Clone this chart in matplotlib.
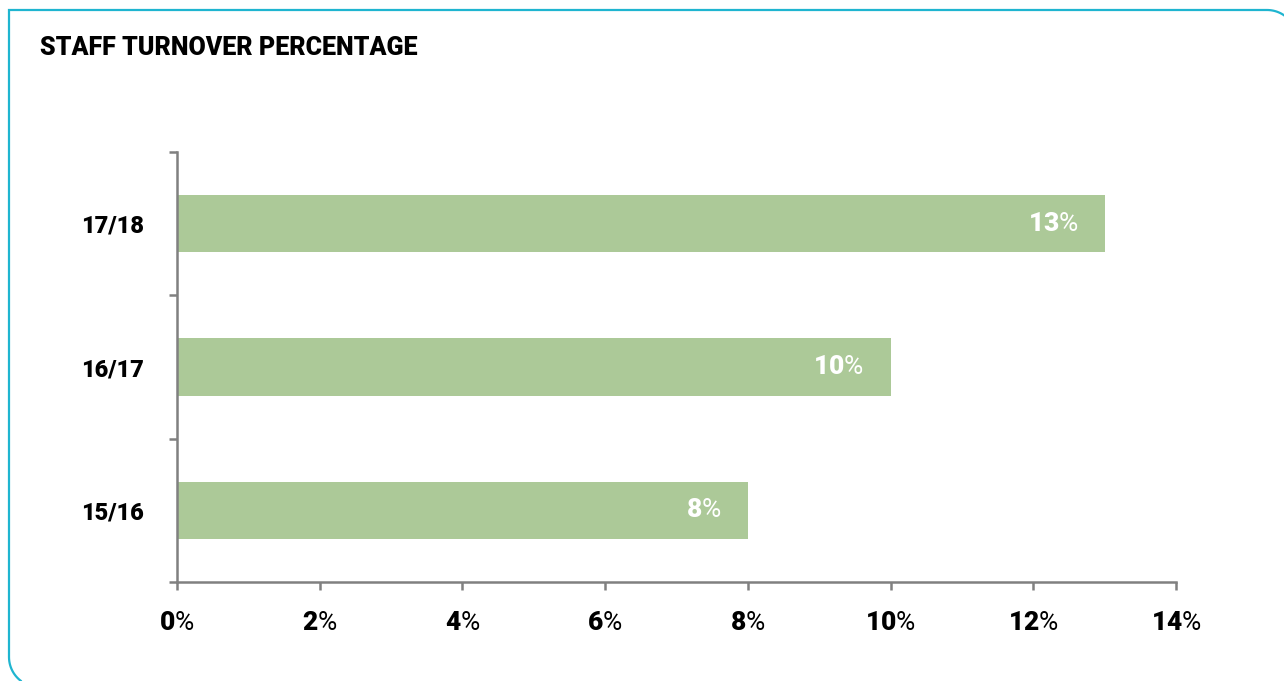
"""
Staff turnover percentage by year, horizontal bar chart.
"""

import matplotlib
matplotlib.use("Agg")
import matplotlib.pyplot as plt
from matplotlib.lines import Line2D
from matplotlib.ticker import FixedLocator, NullFormatter
import numpy as np


years = ["15/16", "16/17", "17/18"]
turnover = [8, 10, 13]
x_ticks = [0, 2, 4, 6, 8, 10, 12, 14]

BAR_COLOR = "#acc998"
AXIS_COLOR = "#808080"
BORDER_COLOR = "#1fb5d0"
FONT = ["Roboto", "DejaVu Sans"]

plt.rcParams["font.family"] = FONT
plt.rcParams["mathtext.fontset"] = "custom"
plt.rcParams["mathtext.bf"] = "Roboto:black"
plt.rcParams["mathtext.rm"] = "Roboto"


def pct_label(v):
    # heavy number, regular percent sign
    return r"$\mathbf{%d}$%%" % v


def draw_border(fig):
    # panel outline in pixel coords (y down): square top-left corner,
    # rounded top-right and bottom-left corners
    W, H = 1284, 681
    r = 30
    cx, cy = 1267, 40
    pts = [(cx + r * np.cos(a), cy - r * np.sin(a)) for a in np.linspace(0.6, np.pi / 2, 20)]
    pts += [(9, 10), (9, 657)]
    cx2, cy2 = 39, 657
    pts += [(cx2 - r * np.cos(a), cy2 + r * np.sin(a)) for a in np.linspace(0, 0.95, 15)]
    xs = [p[0] / W for p in pts]
    ys = [1 - p[1] / H for p in pts]
    fig.add_artist(Line2D(xs, ys, transform=fig.transFigure, color=BORDER_COLOR,
                          linewidth=1.6, solid_capstyle="butt", solid_joinstyle="miter"))


fig = plt.figure(figsize=(12.84, 6.81), dpi=100, facecolor="white")
ax = fig.add_axes([177 / 1284, 1 - 582 / 681, (1176 - 177) / 1284, (582 - 152) / 681])

y = np.arange(len(years))
ax.barh(y, turnover, height=0.4, color=BAR_COLOR, zorder=2)

ax.set_xlim(0, 14)
ax.set_ylim(-0.5, len(years) - 0.5)

# x axis
ax.set_xticks(x_ticks)
ax.set_xticklabels([pct_label(v) for v in x_ticks])
ax.tick_params(axis="x", direction="out", length=6, width=1.8, color=AXIS_COLOR,
               pad=15, labelsize=19, labelcolor="black")

# y axis: ticks between categories, labels centred on the bars
ax.yaxis.set_major_locator(FixedLocator(np.arange(-0.5, len(years), 1.0)))
ax.yaxis.set_major_formatter(NullFormatter())
ax.set_yticks(y, minor=True)
ax.set_yticklabels(years, minor=True, fontweight="black", fontsize=17)
ax.tick_params(axis="y", which="major", direction="out", length=6, width=1.8, color=AXIS_COLOR)
ax.tick_params(axis="y", which="minor", length=0, pad=24)

for side in ("top", "right"):
    ax.spines[side].set_visible(False)
for side in ("left", "bottom"):
    ax.spines[side].set_color(AXIS_COLOR)
    ax.spines[side].set_linewidth(1.8)

for yi, v in zip(y, turnover):
    ax.annotate(pct_label(v), xy=(v, yi), xytext=(-19, 0), textcoords="offset points",
                ha="right", va="center", color="white", fontsize=19)

fig.text(40 / 1284, 1 - 48 / 681, "STAFF TURNOVER PERCENTAGE", ha="left", va="center",
         fontsize=18, fontweight="black", color="black")

draw_border(fig)

fig.savefig("out.png", dpi=100, facecolor="white")
